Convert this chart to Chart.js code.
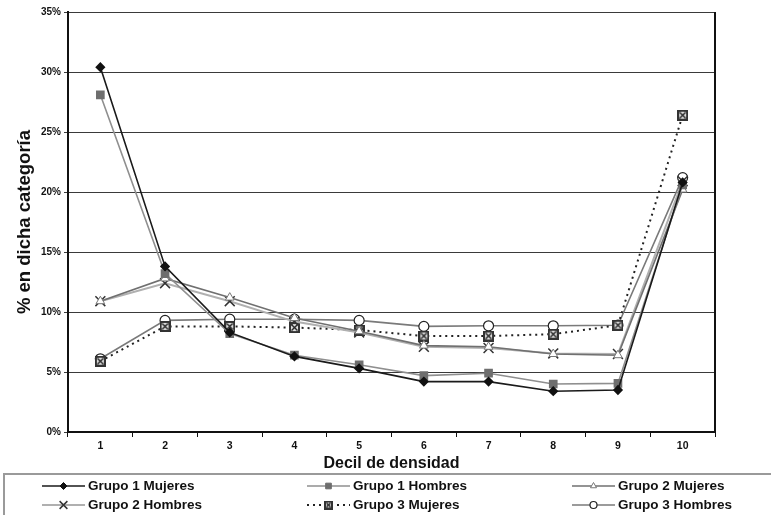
<!DOCTYPE html>
<html><head><meta charset="utf-8">
<script src="https://cdn.jsdelivr.net/npm/chart.js@4.4.0/dist/chart.umd.min.js"></script>
<style>html,body{margin:0;padding:0;background:#fff}#wrap{width:771px;height:515px;position:relative}</style>
</head><body><div id="wrap"><canvas id="c" width="771" height="515"></canvas></div>
<script>
const categories = ['1','2','3','4','5','6','7','8','9','10'];
const seriesNames = ['Grupo 1 Mujeres','Grupo 1 Hombres','Grupo 2 Mujeres','Grupo 2 Hombres','Grupo 3 Mujeres','Grupo 3 Hombres'];
const g1Mujeres = [30.4, 13.8, 8.3, 6.3, 5.3, 4.2, 4.2, 3.4, 3.5, 20.8];
const g1Hombres = [28.1, 13.2, 8.2, 6.4, 5.6, 4.7, 4.9, 4.0, 4.05, 20.6];
const g2Mujeres = [10.9, 12.8, 11.2, 9.5, 8.4, 7.2, 7.1, 6.5, 6.4, 20.2];
const g2Hombres = [10.9, 12.4, 10.9, 9.2, 8.3, 7.1, 7.0, 6.55, 6.5, 20.9];
const g3Mujeres = [5.9, 8.8, 8.8, 8.7, 8.5, 8.0, 8.0, 8.15, 8.9, 26.4];
const g3Hombres = [6.1, 9.3, 9.4, 9.4, 9.3, 8.8, 8.85, 8.85, 8.9, 21.2];
const yTicks = [0,5,10,15,20,25,30,35];

function boxX(size){
  const c=document.createElement('canvas');c.width=size;c.height=size;
  const g=c.getContext('2d');
  g.fillStyle='#333';g.fillRect(0,0,size,size);
  g.fillStyle='#e0e0e0';g.fillRect(2,2,size-4,size-4);
  g.strokeStyle='#222';g.lineWidth=1.4;
  g.beginPath();g.moveTo(2.5,2.5);g.lineTo(size-2.5,size-2.5);g.moveTo(size-2.5,2.5);g.lineTo(2.5,size-2.5);g.stroke();
  return c;
}
const bx = boxX(11);
const bxSmall = boxX(9);

const ds = [
 {label:seriesNames[0],data:g1Mujeres,borderColor:'#1a1a1a',borderWidth:1.6,pointStyle:'rectRot',pointRadius:4,pointBackgroundColor:'#111',pointBorderColor:'#111'},
 {label:seriesNames[1],data:g1Hombres,borderColor:'#8f8f8f',borderWidth:1.6,pointStyle:'rect',pointRadius:5,pointBackgroundColor:'#6e6e6e',pointBorderColor:'#6e6e6e'},
 {label:seriesNames[2],data:g2Mujeres,borderColor:'#707070',borderWidth:1.6,pointStyle:'triangle',pointRadius:5,pointBackgroundColor:'#fff',pointBorderColor:'#777',pointBorderWidth:1},
 {label:seriesNames[3],data:g2Hombres,borderColor:'#b0b0b0',borderWidth:2,pointStyle:'crossRot',pointRadius:7,pointBackgroundColor:'#333',pointBorderColor:'#333',pointBorderWidth:1.5},
 {label:seriesNames[4],data:g3Mujeres,borderColor:'#222',borderWidth:2,borderDash:[2,4],pointStyle:bx,pointRadius:5,pointBackgroundColor:'#333',pointBorderColor:'#333'},
 {label:seriesNames[5],data:g3Hombres,borderColor:'#7a7a7a',borderWidth:1.6,pointStyle:'circle',pointRadius:5,pointBackgroundColor:'#fff',pointBorderColor:'#222',pointBorderWidth:1.2}
];
ds.forEach(d=>{d.tension=0;d.fill=false;});

const FONT = "'Liberation Sans',Arial,sans-serif";

const extras = {
  id:'extras',
  afterDraw(chart){
    const g=chart.ctx, a=chart.chartArea;
    g.save();
    // right border
    g.strokeStyle='#111';g.lineWidth=2;
    g.beginPath();g.moveTo(a.right,a.top);g.lineTo(a.right,a.bottom);g.stroke();
    // legend box
    g.strokeStyle='#9a9a9a';g.lineWidth=2;
    g.strokeRect(4,474,800,60);
    const cols=[[42,88],[307,353],[572,618]];
    const rows=[486,505];
    const radii=[3.5,4,3.5,5.5,4,3.5];
    g.font="bold 13.5px "+FONT;g.textBaseline='middle';g.fillStyle='#111';
    chart.data.datasets.forEach((d,i)=>{
      const col=cols[i%3], row=rows[Math.floor(i/3)];
      const x0=col[0], x1=col[1]-3, y=row;
      g.save();
      g.strokeStyle=d.borderColor;g.lineWidth=d.borderWidth;
      if(d.borderDash) g.setLineDash(d.borderDash);
      g.beginPath();g.moveTo(x0,y);g.lineTo(x1,y);g.stroke();
      g.restore();
      const ps=(d.pointStyle===bx)?bxSmall:d.pointStyle;
      const st={pointStyle:ps,radius:radii[i],borderWidth:d.pointBorderWidth||1,rotation:0};
      g.save();
      g.fillStyle=d.pointBackgroundColor;g.strokeStyle=d.pointBorderColor;g.lineWidth=d.pointBorderWidth||1;
      Chart.helpers.drawPoint(g,st,(x0+x1)/2,y);
      g.restore();
      g.fillStyle='#111';
      g.fillText(d.label,col[1],y);
    });
    g.restore();
  }
};

new Chart(document.getElementById('c'),{
  type:'line',
  data:{labels:categories,datasets:ds},
  options:{
    responsive:false,animation:false,
    layout:{padding:{left:0,top:12,right:56,bottom:42}},
    plugins:{legend:{display:false},tooltip:{enabled:false}},
    scales:{
      x:{offset:true,
        grid:{display:true,drawOnChartArea:false,offset:true,tickLength:5,color:'#111',lineWidth:1},
        border:{color:'#111',width:2},
        ticks:{font:{family:FONT,size:10.5,weight:'bold'},color:'#111',padding:3},
        title:{display:true,text:'Decil de densidad',font:{family:FONT,size:16,weight:'bold'},color:'#111',padding:{top:2,bottom:0}},
        afterFit(s){s.height=41;}
      },
      y:{min:0,max:35,
        afterBuildTicks(s){s.ticks=yTicks.map(v=>({value:v}));},
        grid:{color:'#3a3a3a',lineWidth:1,tickLength:4,drawTicks:true},
        border:{color:'#111',width:2},
        ticks:{callback:v=>v+'%',font:{family:FONT,size:10,weight:'bold'},color:'#111',padding:3},
        title:{display:true,text:'% en dicha categoría',font:{family:FONT,size:18.5,weight:'bold'},color:'#111',padding:{top:14,bottom:0}},
        afterFit(s){s.width=68;}
      }
    }
  },
  plugins:[extras]
});
</script></body></html>
